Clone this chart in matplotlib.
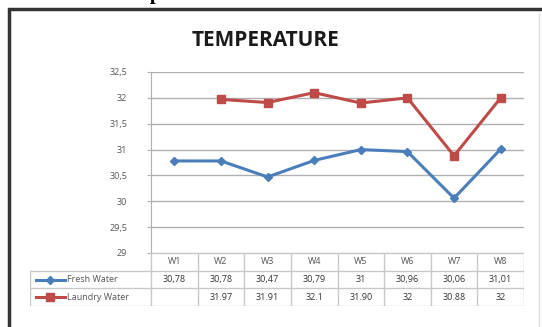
import matplotlib.pyplot as plt
from matplotlib.lines import Line2D
from matplotlib.patches import Rectangle

weeks = ['W1', 'W2', 'W3', 'W4', 'W5', 'W6', 'W7', 'W8']
fresh = [30.78, 30.78, 30.47, 30.79, 31, 30.96, 30.06, 31.01]
laundry = [None, 31.97, 31.91, 32.1, 31.90, 32, 30.88, 32]
fresh_labels = ['30,78', '30,78', '30,47', '30,79', '31', '30,96', '30,06', '31,01']
laundry_labels = ['', '31.97', '31.91', '32.1', '31.90', '32', '30.88', '32']
yticks = [29, 29.5, 30, 30.5, 31, 31.5, 32, 32.5]
ytick_labels = ['29', '29,5', '30', '30,5', '31', '31,5', '32', '32,5']

W, H = 542, 327
blue = '#4a7ebb'
red = '#be4b48'
grid_c = '#b0b0b0'
txt_c = '#555555'

plt.rcParams['font.family'] = ['Open Sans', 'DejaVu Sans']
fig = plt.figure(figsize=(W / 100, H / 100), dpi=100)

def px(x0, y0, x1, y1):
    return [x0 / W, 1 - y1 / H, (x1 - x0) / W, (y1 - y0) / H]

# document heading, cut off at the top edge as in the source page
fig.text(112 / W, 1 + 1 / H, 'Temperature', family='Liberation Serif',
         fontweight='bold', fontsize=15, va='baseline', ha='left')
fig.text(2 / W, 1 + 1 / H, '3.', family='Liberation Serif',
         fontweight='bold', fontsize=15, va='baseline', ha='left')

# outer frame
fig.patches.append(Rectangle((9 / W, -0.05), 1.2, (1 - 9 / H) + 0.05,
                             transform=fig.transFigure, fill=False,
                             edgecolor='#333333', linewidth=2.5))
fig.add_artist(Line2D([539 / W, 539 / W], [0, 1 - 14 / H],
                      transform=fig.transFigure, color='#dddddd', lw=1))

fig.text(266 / W, 1 - 40 / H, 'TEMPERATURE', fontsize=15, fontweight='bold',
         ha='center', va='center', color='#1a1a1a')

# main plot
ax = fig.add_axes(px(151, 72, 524, 253))
x = list(range(1, len(weeks) + 1))
ax.plot(x, fresh, color=blue, lw=2.2, marker='D', ms=4.5, zorder=3)
lx = [xi for xi, v in zip(x, laundry) if v is not None]
ly = [v for v in laundry if v is not None]
ax.plot(lx, ly, color=red, lw=2.2, marker='s', ms=6, zorder=3)
ax.set_xlim(0.5, len(weeks) + 0.5)
ax.set_ylim(29, 32.5)
ax.set_yticks(yticks)
ax.set_yticklabels(ytick_labels, fontsize=6.5, color=txt_c)
ax.set_xticks([])
ax.tick_params(axis='y', length=3, color=grid_c, pad=14)
ax.grid(axis='y', color=grid_c, lw=1)
for s in ['top', 'right', 'bottom']:
    ax.spines[s].set_visible(False)
ax.spines['left'].set_color(grid_c)

# data table
unit = (524 - 151) / len(weeks)
left_units = (151 - 30) / unit
tb = fig.add_axes(px(30, 253, 524, 306))
tb.set_xlim(0.5 - left_units, len(weeks) + 0.5)
tb.set_ylim(3, 0)
tb.axis('off')
tc = '#c8c8c8'
tb.plot([0.5, len(weeks) + 0.5], [0, 0], color=tc, lw=1)
for r in [1, 2, 3]:
    tb.plot([0.5 - left_units, len(weeks) + 0.5], [r, r], color=tc, lw=1)
for k in range(len(weeks) + 1):
    tb.plot([k + 0.5, k + 0.5], [0, 3], color=tc, lw=1)
tb.plot([0.5 - left_units] * 2, [1, 3], color=tc, lw=1)
for i, w in enumerate(weeks):
    tb.text(i + 1, 0.5, w, ha='center', va='center', fontsize=6.5, color=txt_c)
    tb.text(i + 1, 1.5, fresh_labels[i], ha='center', va='center', fontsize=6.5, color='#333333')
    tb.text(i + 1, 2.5, laundry_labels[i], ha='center', va='center', fontsize=6.5, color='#333333')
x0 = 0.5 - left_units
tb.plot([x0 + 0.12, x0 + 0.75], [1.5, 1.5], color=blue, lw=2.2)
tb.plot([x0 + 0.43], [1.5], color=blue, marker='D', ms=4)
tb.plot([x0 + 0.12, x0 + 0.75], [2.5, 2.5], color=red, lw=2.2)
tb.plot([x0 + 0.43], [2.5], color=red, marker='s', ms=5.5)
tb.text(x0 + 0.8, 1.5, 'Fresh Water', ha='left', va='center', fontsize=6.5, color=txt_c)
tb.text(x0 + 0.8, 2.5, 'Laundry Water', ha='left', va='center', fontsize=6.5, color=txt_c)

fig.savefig('out.png', dpi=100)
